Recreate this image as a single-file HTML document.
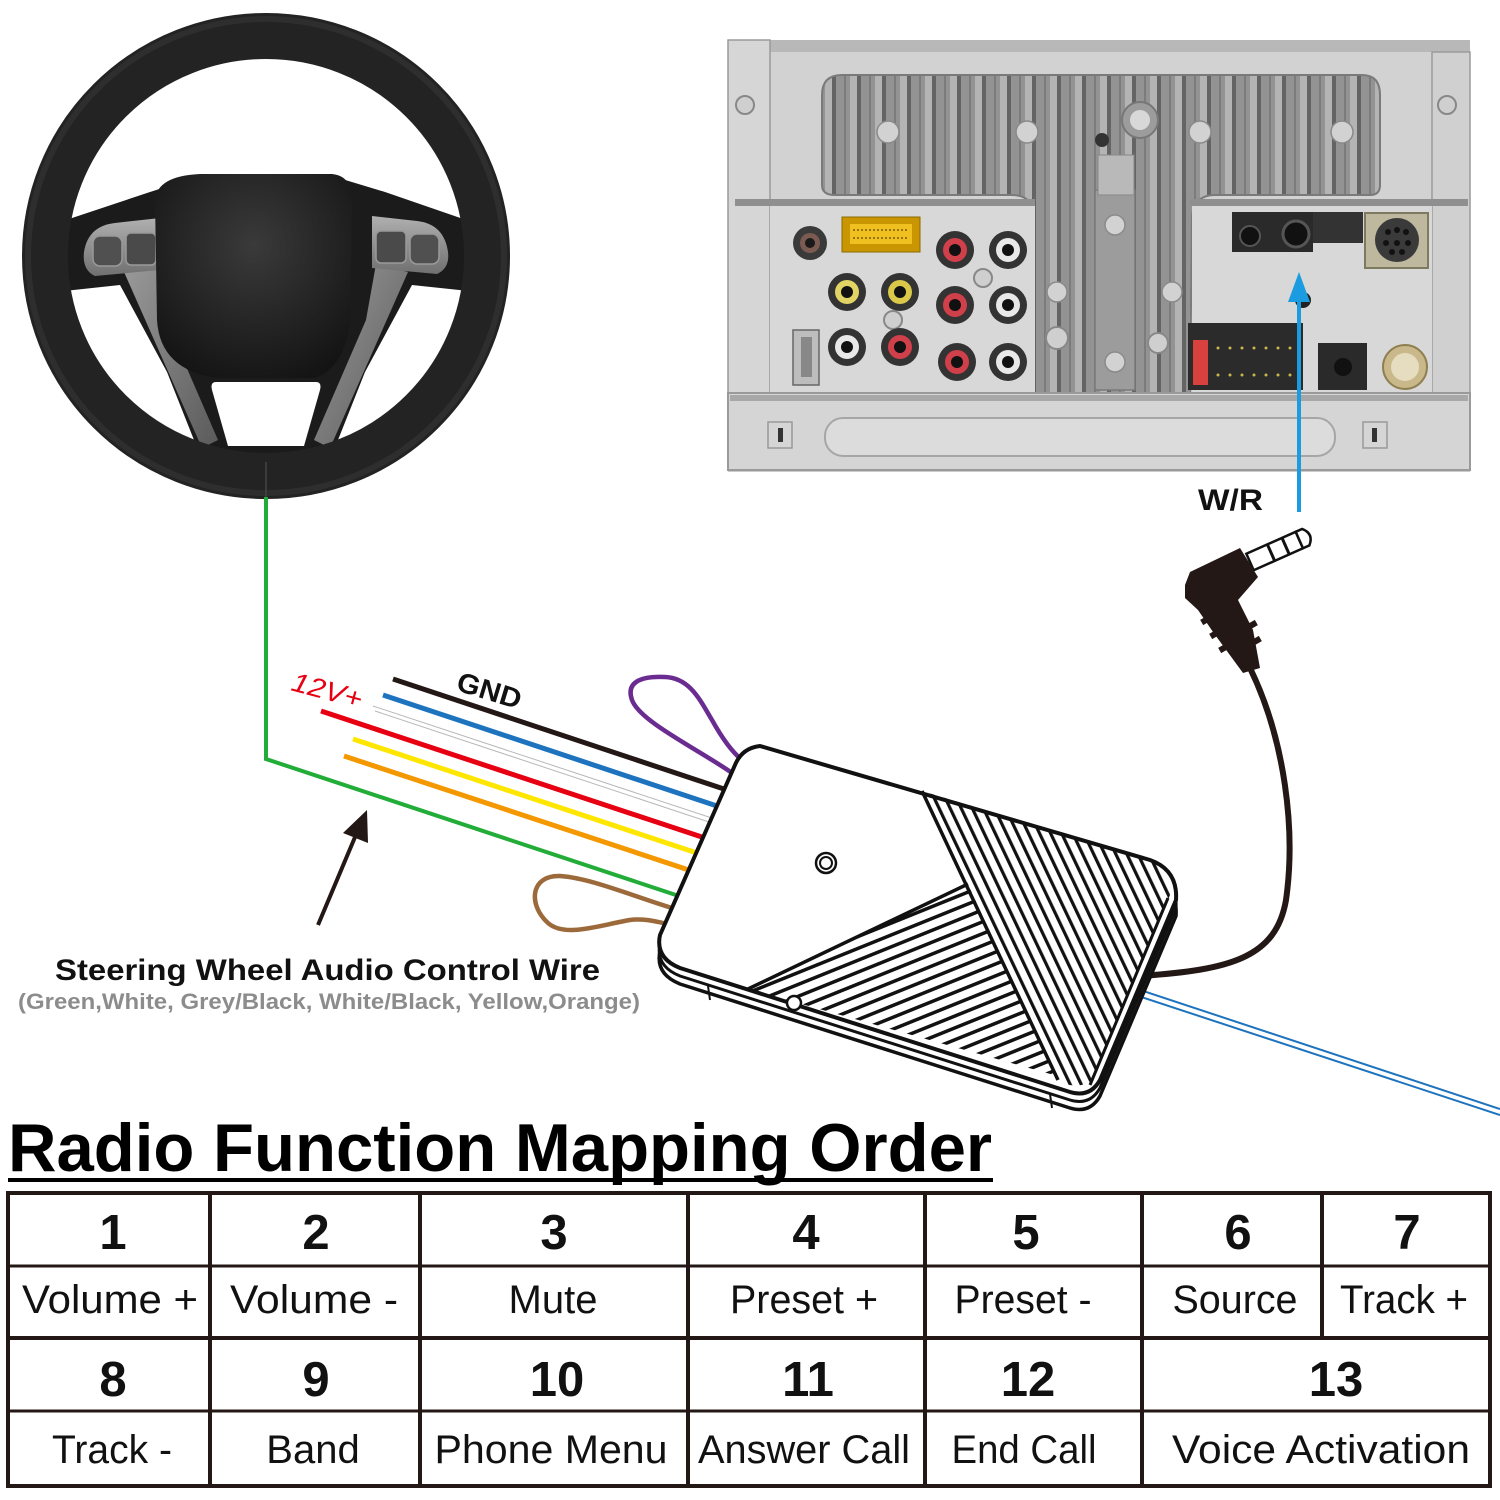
<!DOCTYPE html>
<html><head><meta charset="utf-8"><style>
html,body{margin:0;padding:0;background:#fff;}
svg{display:block;}
text{font-family:"Liberation Sans",Arial,sans-serif;}
</style></head><body>
<svg width="1500" height="1500" viewBox="0 0 1500 1500" xmlns="http://www.w3.org/2000/svg">
<defs>
  <pattern id="fins" width="25" height="10" patternUnits="userSpaceOnUse">
    <rect width="25" height="10" fill="#939393"/>
    <rect x="0" width="7" height="10" fill="#b4b4b4"/>
    <rect x="7" width="4" height="10" fill="#646464"/>
    <rect x="19" width="2" height="10" fill="#7c7c7c"/>
  </pattern>
  <pattern id="stR" width="10" height="20" patternUnits="userSpaceOnUse" patternTransform="rotate(-25.4)">
    <rect x="0" width="3.2" height="20" fill="#111"/>
  </pattern>
  <pattern id="stL" width="11" height="20" patternUnits="userSpaceOnUse" patternTransform="rotate(68)">
    <rect x="0" width="3.5" height="20" fill="#111"/>
  </pattern>
  <radialGradient id="bag" cx="0.5" cy="0.35" r="0.7">
    <stop offset="0" stop-color="#3a3a3a"/>
    <stop offset="1" stop-color="#141414"/>
  </radialGradient>
  <linearGradient id="spk" x1="0" y1="0" x2="1" y2="1">
    <stop offset="0" stop-color="#9a9a9a"/>
    <stop offset="1" stop-color="#5a5a5a"/>
  </linearGradient>
  <linearGradient id="pnl" x1="0" y1="0" x2="0" y2="1">
    <stop offset="0" stop-color="#b0b0b0"/>
    <stop offset="1" stop-color="#707070"/>
  </linearGradient>
</defs>

<!-- ================= STEERING WHEEL ================= -->
<g>
  <path d="M60 222 L150 192 L200 176 L332 176 L385 192 L472 222 L478 292 L412 285 L365 372 L338 440 L300 456 L232 456 L194 440 L167 372 L120 285 L55 292 Z" fill="#1b1b1b"/>
  <path d="M124 272 L156 264 L166 320 L218 440 L202 448 Z" fill="url(#spk)"/>
  <path d="M408 272 L376 264 L366 320 L314 440 L330 448 Z" fill="url(#spk)"/>
  <path d="M84 252 Q88 226 115 223 L160 218 L160 270 L95 276 Q82 270 84 252 Z" fill="url(#pnl)"/>
  <rect x="93" y="236" width="29" height="30" rx="7" fill="#505050" stroke="#999" stroke-width="1.5"/>
  <rect x="126" y="233" width="30" height="32" rx="5" fill="#4a4a4a" stroke="#999" stroke-width="1.5"/>
  <path d="M448 252 Q444 224 417 221 L372 216 L372 268 L437 274 Q450 268 448 252 Z" fill="url(#pnl)"/>
  <rect x="376" y="231" width="30" height="32" rx="5" fill="#4a4a4a" stroke="#999" stroke-width="1.5"/>
  <rect x="410" y="234" width="29" height="30" rx="7" fill="#505050" stroke="#999" stroke-width="1.5"/>
  <path d="M155 200 Q157 176 200 174 L332 174 Q352 176 352 200 L350 320 Q345 368 315 378 L217 378 Q160 370 157 320 Z" fill="url(#bag)"/>
  <path d="M216 382 L316 382 Q322 382 320 390 L304 446 L228 446 L212 390 Q210 382 216 382 Z" fill="#fff"/>
  <ellipse cx="266" cy="256" rx="221" ry="220" fill="none" stroke="#232323" stroke-width="46"/>
  <ellipse cx="266" cy="256" rx="238" ry="237" fill="none" stroke="#2e2e2e" stroke-width="6"/>
  <path d="M190 452 Q266 470 342 452 L340 470 Q266 488 192 470 Z" fill="#232323"/>
  <line x1="266" y1="462" x2="266" y2="497" stroke="#444" stroke-width="1.5"/>
</g>

<!-- ================= RADIO ================= -->
<g>
  <rect x="728" y="40" width="742" height="432" fill="#cbcbcb"/>
  <rect x="730" y="40" width="740" height="12" fill="#b8b8b8"/>
  <rect x="735" y="52" width="733" height="153" fill="#d2d2d2"/>
  <rect x="728" y="40" width="42" height="356" fill="#d6d6d6" stroke="#9a9a9a" stroke-width="1.5"/>
  <rect x="1432" y="52" width="38" height="344" fill="#d0d0d0" stroke="#9a9a9a" stroke-width="1.5"/>
  <path d="M822 95 Q822 75 842 75 L1362 75 Q1380 75 1380 95 L1380 185 Q1380 195 1370 195 L1215 195 Q1195 195 1192 215 L1190 395 L1035 395 L1035 215 Q1032 195 1012 195 L835 195 Q822 195 822 185 Z" fill="url(#fins)" stroke="#7a7a7a" stroke-width="2"/>
  <rect x="735" y="199" width="300" height="7" fill="#8f8f8f"/>
  <rect x="1190" y="199" width="278" height="7" fill="#8f8f8f"/>
  <rect x="770" y="206" width="265" height="186" fill="#d8d8d8"/>
  <rect x="1192" y="206" width="240" height="186" fill="#d8d8d8"/>
  <rect x="1035" y="196" width="155" height="199" fill="url(#fins)"/>
  <rect x="1095" y="190" width="40" height="200" fill="#9c9c9c" stroke="#7a7a7a" stroke-width="1.5"/>
  <g fill="#d2d2d2" stroke="#8a8a8a" stroke-width="1.5">
    <circle cx="888" cy="132" r="11"/><circle cx="1027" cy="132" r="11"/>
    <circle cx="1200" cy="132" r="11"/><circle cx="1342" cy="132" r="11"/>
    <circle cx="1115" cy="225" r="10"/><circle cx="1057" cy="292" r="10"/>
    <circle cx="1172" cy="292" r="10"/><circle cx="1115" cy="362" r="10"/>
  </g>
  <circle cx="1140" cy="120" r="18" fill="#9c9c9c" stroke="#777" stroke-width="2"/>
  <circle cx="1140" cy="120" r="10" fill="#d8d8d8"/>
  <circle cx="1102" cy="140" r="7" fill="#333"/>
  <rect x="1098" y="155" width="36" height="40" fill="#b9b9b9" stroke="#888"/>
  <g fill="#cfcfcf" stroke="#888" stroke-width="2">
    <circle cx="745" cy="105" r="9"/><circle cx="1447" cy="105" r="9"/>
    <circle cx="744" cy="455" r="9"/><circle cx="1452" cy="455" r="9"/>
    <circle cx="1158" cy="343" r="10"/><circle cx="1057" cy="338" r="11"/>
    <circle cx="893" cy="320" r="9"/><circle cx="983" cy="278" r="9"/>
  </g>
  <circle cx="810" cy="243" r="17" fill="#3a3a3a"/><circle cx="810" cy="243" r="10" fill="#7b5a52"/><circle cx="810" cy="243" r="5" fill="#1a1a1a"/>
  <rect x="842" y="217" width="78" height="35" fill="#c99500" stroke="#8a6a00"/>
  <rect x="850" y="224" width="62" height="20" fill="#f0c020"/>
  <g stroke="#7a5a00" stroke-width="1.5">
    <line x1="853" y1="230" x2="909" y2="230" stroke-dasharray="2 2"/>
    <line x1="853" y1="238" x2="909" y2="238" stroke-dasharray="2 2"/>
  </g>
  <g>
    <circle cx="955" cy="250" r="19" fill="#333"/><circle cx="955" cy="250" r="12" fill="#d0404a"/><circle cx="955" cy="250" r="6" fill="#111"/>
    <circle cx="1008" cy="250" r="19" fill="#333"/><circle cx="1008" cy="250" r="12" fill="#e8e8e8"/><circle cx="1008" cy="250" r="6" fill="#111"/>
    <circle cx="847" cy="292" r="19" fill="#333"/><circle cx="847" cy="292" r="12" fill="#e2d464"/><circle cx="847" cy="292" r="6" fill="#111"/>
    <circle cx="900" cy="292" r="19" fill="#333"/><circle cx="900" cy="292" r="12" fill="#d9c84a"/><circle cx="900" cy="292" r="6" fill="#111"/>
    <circle cx="955" cy="305" r="19" fill="#333"/><circle cx="955" cy="305" r="12" fill="#d0404a"/><circle cx="955" cy="305" r="6" fill="#111"/>
    <circle cx="1008" cy="305" r="19" fill="#333"/><circle cx="1008" cy="305" r="12" fill="#e8e8e8"/><circle cx="1008" cy="305" r="6" fill="#111"/>
    <circle cx="847" cy="347" r="19" fill="#333"/><circle cx="847" cy="347" r="12" fill="#e8e8e8"/><circle cx="847" cy="347" r="6" fill="#111"/>
    <circle cx="900" cy="347" r="19" fill="#333"/><circle cx="900" cy="347" r="12" fill="#d0404a"/><circle cx="900" cy="347" r="6" fill="#111"/>
    <circle cx="957" cy="362" r="19" fill="#333"/><circle cx="957" cy="362" r="12" fill="#d0404a"/><circle cx="957" cy="362" r="6" fill="#111"/>
    <circle cx="1008" cy="362" r="19" fill="#333"/><circle cx="1008" cy="362" r="12" fill="#e8e8e8"/><circle cx="1008" cy="362" r="6" fill="#111"/>
  </g>
  <rect x="793" y="330" width="26" height="55" fill="#bdbdbd" stroke="#666" stroke-width="1.5"/>
  <rect x="801" y="337" width="11" height="40" fill="#888"/>
  <rect x="1232" y="212" width="81" height="40" fill="#2a2a2a"/>
  <circle cx="1250" cy="236" r="10" fill="#111" stroke="#555" stroke-width="2"/>
  <circle cx="1296" cy="234" r="13" fill="#111" stroke="#555" stroke-width="3"/>
  <rect x="1313" y="212" width="50" height="31" fill="#333"/>
  <rect x="1365" y="213" width="63" height="55" fill="#bdb89e" stroke="#7d7a60" stroke-width="2"/>
  <circle cx="1397" cy="240" r="22" fill="#3a3a3a"/>
  <g fill="#111"><circle cx="1388" cy="232" r="3"/><circle cx="1397" cy="230" r="3"/><circle cx="1406" cy="232" r="3"/><circle cx="1386" cy="243" r="3"/><circle cx="1397" cy="243" r="3"/><circle cx="1408" cy="243" r="3"/><circle cx="1392" cy="252" r="3"/><circle cx="1402" cy="252" r="3"/></g>
  <rect x="1188" y="323" width="115" height="67" fill="#2b2b2b"/>
  <rect x="1193" y="340" width="15" height="45" fill="#d9413f"/>
  <g fill="#c8b84a"><circle cx="1218" cy="348" r="1.5"/><circle cx="1230" cy="348" r="1.5"/><circle cx="1242" cy="348" r="1.5"/><circle cx="1254" cy="348" r="1.5"/><circle cx="1266" cy="348" r="1.5"/><circle cx="1278" cy="348" r="1.5"/><circle cx="1290" cy="348" r="1.5"/>
  <circle cx="1218" cy="375" r="1.5"/><circle cx="1230" cy="375" r="1.5"/><circle cx="1242" cy="375" r="1.5"/><circle cx="1254" cy="375" r="1.5"/><circle cx="1266" cy="375" r="1.5"/><circle cx="1278" cy="375" r="1.5"/><circle cx="1290" cy="375" r="1.5"/></g>
  <rect x="1318" y="343" width="49" height="47" fill="#2a2a2a"/>
  <circle cx="1343" cy="367" r="9" fill="#111"/>
  <circle cx="1405" cy="367" r="22" fill="#c9b98a" stroke="#8f7f50" stroke-width="2"/>
  <circle cx="1405" cy="367" r="14" fill="#e6dcc0"/>
  <circle cx="1303" cy="300" r="8" fill="#222"/>
  <rect x="728" y="393" width="742" height="77" fill="#d5d5d5" stroke="#9a9a9a" stroke-width="2"/>
  <rect x="730" y="395" width="738" height="6" fill="#a8a8a8"/>
  <rect x="825" y="418" width="510" height="38" rx="18" fill="#dcdcdc" stroke="#a6a6a6" stroke-width="2"/>
  <rect x="768" y="422" width="24" height="26" fill="none" stroke="#999" stroke-width="1.5"/>
  <rect x="778" y="428" width="5" height="14" fill="#333"/>
  <rect x="1363" y="422" width="24" height="26" fill="none" stroke="#999" stroke-width="1.5"/>
  <rect x="1372" y="428" width="5" height="14" fill="#333"/>
</g>

<line x1="1299" y1="512" x2="1299" y2="298" stroke="#1b9ce0" stroke-width="4"/>
<polygon points="1299,272 1288,302 1310,302" fill="#1b9ce0"/>
<text x="1198" y="510" font-size="30" font-weight="bold" textLength="65" lengthAdjust="spacingAndGlyphs" fill="#111">W/R</text>

<!-- ================= WIRES ================= -->
<g fill="none" stroke-linecap="butt">
  <path d="M266 497 L266 759 L700 903" stroke="#22ac38" stroke-width="4"/>
  <line x1="393" y1="679" x2="745" y2="796" stroke="#231815" stroke-width="5"/>
  <line x1="383" y1="695" x2="735" y2="812" stroke="#1e73be" stroke-width="5"/>
  <line x1="373" y1="706" x2="730" y2="824" stroke="#b8b8b8" stroke-width="1"/>
  <line x1="375" y1="711" x2="730" y2="829" stroke="#b8b8b8" stroke-width="1"/>
  <line x1="321" y1="711" x2="720" y2="843" stroke="#e60012" stroke-width="5"/>
  <line x1="353" y1="739" x2="715" y2="859" stroke="#ffe600" stroke-width="5"/>
  <line x1="344" y1="756" x2="710" y2="877" stroke="#f39800" stroke-width="5"/>
  <path d="M735 775 C700 750 640 722 632 700 C625 680 645 676 665 677 C690 678 700 700 712 720 C722 738 732 752 742 760" stroke="#6a2c91" stroke-width="4.5"/>
  <path d="M672 908 C630 895 590 878 560 876 C530 875 528 905 548 923 C565 938 600 925 630 920 C645 918 658 922 672 925" stroke="#9c6a3a" stroke-width="4.5"/>
  <path d="M1250 668 C1285 740 1296 830 1286 900 C1276 958 1230 970 1140 976" stroke="#231815" stroke-width="6"/>
  <line x1="1125" y1="985" x2="1500" y2="1109" stroke="#1e73be" stroke-width="2"/>
  <line x1="1123" y1="991" x2="1500" y2="1115" stroke="#1e73be" stroke-width="2"/>
</g>

<text x="290" y="690" font-size="27" font-style="italic" fill="#e60012" textLength="72" lengthAdjust="spacingAndGlyphs" transform="rotate(15 290 690)">12V+</text>
<text x="455" y="690" font-size="28" font-weight="bold" fill="#111" textLength="66" lengthAdjust="spacingAndGlyphs" transform="rotate(17 455 690)">GND</text>

<line x1="318" y1="925" x2="358" y2="830" stroke="#231815" stroke-width="4"/>
<polygon points="367,810 343,833 368,843" fill="#231815"/>

<!-- ================= MODULE BOX ================= -->
<g stroke="#111" stroke-linejoin="round">
  <path transform="translate(0,16)" d="M760 746 L1150 860 Q1178 870 1176 900 L1100 1080 Q1090 1098 1070 1092 L680 968 Q655 958 660 935 L735 765 Q742 748 760 746 Z" fill="#fff" stroke-width="3.5"/>
  <path transform="translate(0,8)" d="M760 746 L1150 860 Q1178 870 1176 900 L1100 1080 Q1090 1098 1070 1092 L680 968 Q655 958 660 935 L735 765 Q742 748 760 746 Z" fill="#fff" stroke-width="3"/>
  <path d="M760 746 L1150 860 Q1178 870 1176 900 L1100 1080 Q1090 1098 1070 1092 L680 968 Q655 958 660 935 L735 765 Q742 748 760 746 Z" fill="#fff" stroke-width="4"/>
  <path d="M922 791 L1150 860 Q1172 868 1170 895 L1094 1078 Q1082 1090 1062 1083 Z" fill="url(#stR)" stroke="none"/>
  <path d="M748 989 L968 884 L1054 1075 Z" fill="url(#stL)" stroke="none"/>
  <line x1="922" y1="791" x2="1058" y2="1080" stroke-width="3.5"/>
  <line x1="748" y1="989" x2="968" y2="884" stroke-width="3.5"/>
  <line x1="1168" y1="898" x2="1090" y2="1085" stroke-width="3"/>
  <circle cx="826" cy="863" r="10" fill="#fff" stroke-width="2.5"/>
  <circle cx="826" cy="863" r="6" fill="#fff" stroke-width="2"/>
  <circle cx="794" cy="1003" r="7" fill="#fff" stroke-width="2.5"/>
  <line x1="708" y1="986" x2="710" y2="1000" stroke-width="2"/>
  <line x1="1050" y1="1094" x2="1052" y2="1108" stroke-width="2"/>
</g>

<!-- ================= JACK ================= -->
<g>
  <g transform="rotate(-24 1250 562)">
    <rect x="1250" y="553" width="54" height="18" fill="#fff" stroke="#111" stroke-width="2.5"/>
    <line x1="1273" y1="553" x2="1273" y2="571" stroke="#111" stroke-width="3"/>
    <line x1="1289" y1="553" x2="1289" y2="571" stroke="#111" stroke-width="3"/>
    <path d="M1304 553 L1311 553 Q1320 562 1311 571 L1304 571 Z" fill="#fff" stroke="#111" stroke-width="2.5"/>
  </g>
  <path d="M1185 585 L1190 572 L1240 548 L1258 577 L1238 600 L1253 630 L1260 668 L1243 673 L1213 632 L1198 610 L1185 598 Z" fill="#231815"/>
  <g fill="#231815">
    <rect x="1201" y="617" width="10" height="6" transform="rotate(-30 1206 620)"/>
    <rect x="1210" y="631" width="10" height="6" transform="rotate(-30 1215 634)"/>
    <rect x="1219" y="645" width="10" height="6" transform="rotate(-30 1224 648)"/>
    <rect x="1248" y="622" width="9" height="6" transform="rotate(-30 1252 625)"/>
    <rect x="1252" y="638" width="9" height="6" transform="rotate(-30 1256 641)"/>
  </g>
</g>

<text x="55" y="980" font-size="30" font-weight="bold" fill="#111" textLength="545" lengthAdjust="spacingAndGlyphs">Steering Wheel Audio Control Wire</text>
<text x="18" y="1009" font-size="22" font-weight="bold" fill="#8c8c8c" textLength="622" lengthAdjust="spacingAndGlyphs">(Green,White, Grey/Black, White/Black, Yellow,Orange)</text>

<text x="8" y="1171" font-size="68" font-weight="bold" fill="#000" textLength="984" lengthAdjust="spacingAndGlyphs">Radio Function Mapping Order</text>
<rect x="8" y="1178" width="985" height="4" fill="#000"/>

<g stroke="#231815" stroke-width="4" fill="none">
  <rect x="8" y="1193" width="1482" height="293"/>
  <line x1="8" y1="1266" x2="1490" y2="1266" stroke-width="3"/>
  <line x1="8" y1="1338" x2="1490" y2="1338" stroke-width="4"/>
  <line x1="8" y1="1411" x2="1490" y2="1411" stroke-width="3"/>
  <line x1="210" y1="1193" x2="210" y2="1486"/>
  <line x1="420" y1="1193" x2="420" y2="1486"/>
  <line x1="688" y1="1193" x2="688" y2="1486"/>
  <line x1="925" y1="1193" x2="925" y2="1486"/>
  <line x1="1142" y1="1193" x2="1142" y2="1486"/>
  <line x1="1322" y1="1193" x2="1322" y2="1338"/>
</g>
<g font-size="49" font-weight="bold" fill="#111" text-anchor="middle">
  <text x="113" y="1249">1</text>
  <text x="316" y="1249">2</text>
  <text x="554" y="1249">3</text>
  <text x="806" y="1249">4</text>
  <text x="1026" y="1249">5</text>
  <text x="1238" y="1249">6</text>
  <text x="1407" y="1249">7</text>
  <text x="113" y="1396">8</text>
  <text x="316" y="1396">9</text>
  <text x="557" y="1396">10</text>
  <text x="808" y="1396">11</text>
  <text x="1028" y="1396">12</text>
  <text x="1336" y="1396">13</text>
</g>
<g font-size="40" fill="#111" text-anchor="middle">
  <text x="110" y="1313" textLength="176" lengthAdjust="spacingAndGlyphs">Volume +</text>
  <text x="314" y="1313" textLength="168" lengthAdjust="spacingAndGlyphs">Volume -</text>
  <text x="553" y="1313">Mute</text>
  <text x="804" y="1313" textLength="148" lengthAdjust="spacingAndGlyphs">Preset +</text>
  <text x="1023" y="1313" textLength="137" lengthAdjust="spacingAndGlyphs">Preset -</text>
  <text x="1235" y="1313" textLength="125" lengthAdjust="spacingAndGlyphs">Source</text>
  <text x="1404" y="1313" textLength="128" lengthAdjust="spacingAndGlyphs">Track +</text>
  <text x="112" y="1463" textLength="120" lengthAdjust="spacingAndGlyphs">Track -</text>
  <text x="313" y="1463">Band</text>
  <text x="551" y="1463" textLength="233" lengthAdjust="spacingAndGlyphs">Phone Menu</text>
  <text x="804" y="1463" textLength="212" lengthAdjust="spacingAndGlyphs">Answer Call</text>
  <text x="1024" y="1463" textLength="145" lengthAdjust="spacingAndGlyphs">End Call</text>
  <text x="1321" y="1463" textLength="298" lengthAdjust="spacingAndGlyphs">Voice Activation</text>
</g>
</svg>
</body></html>
